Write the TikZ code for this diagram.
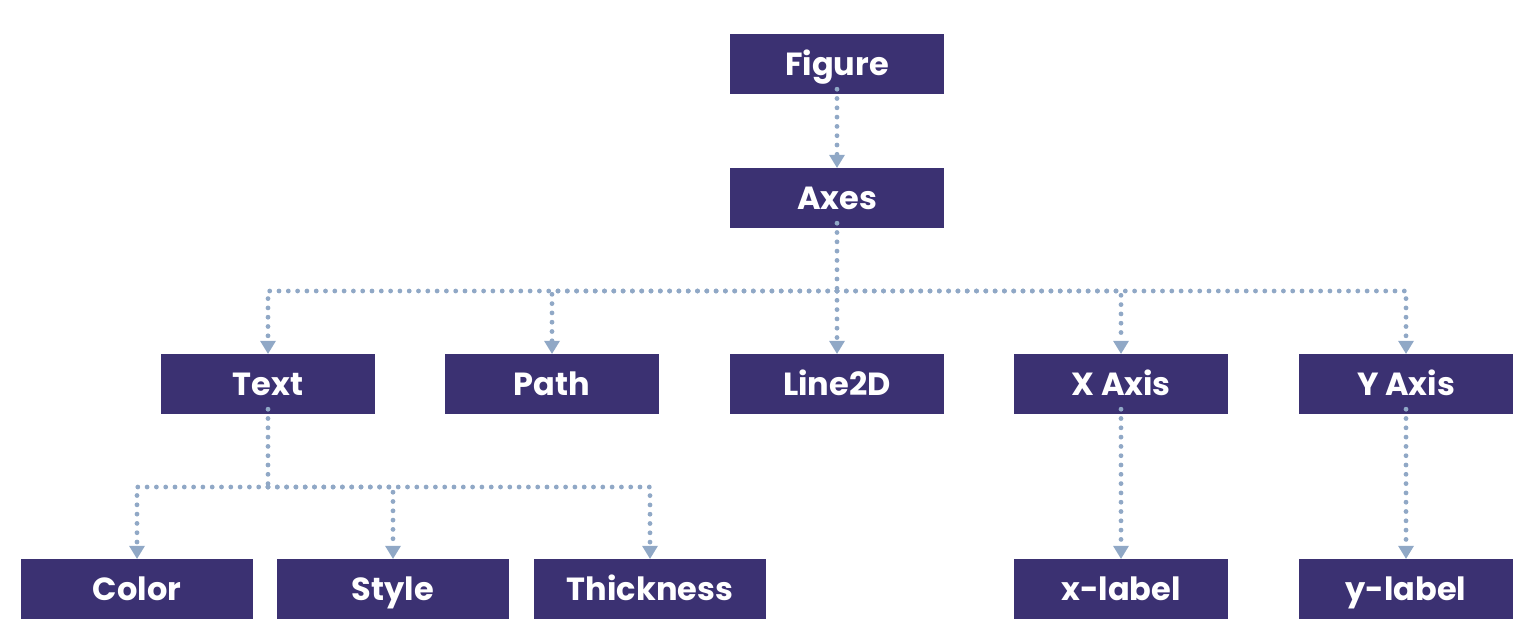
\documentclass[tikz,border=0pt]{standalone}
\usepackage{fontspec}
\setmainfont{Poppins}
\usetikzlibrary{arrows.meta}
\definecolor{boxfill}{HTML}{3B3172}
\definecolor{conncol}{HTML}{90A8C6}
\begin{document}
\begin{tikzpicture}[x=1pt,y=-1pt,
  box/.style={fill=boxfill,draw=none,minimum height=60pt,inner sep=0pt,
    text height=30pt,text depth=8pt,
    text=white,font=\fontsize{32}{38}\selectfont\bfseries},
  wbox/.style={box,minimum width=214pt},
  lbox/.style={box,minimum width=232pt},
  conn/.style={draw=conncol,line width=4.8pt,line cap=round,dash pattern=on 0pt off 9.3pt},
  arr/.style={conn,-{Triangle[width=16pt,length=13pt,line width=0pt,fill=conncol,round]}},
]
\useasboundingbox (0,0) rectangle (1538,643);
\node[wbox] (figure) at (837,64) {Figure};
\node[wbox] (axes) at (837,198) {Axes};
\node[wbox] (text) at (268,384) {Text};
\node[wbox] (path) at (552,384) {Path};
\node[wbox] (line) at (837,384) {Line2D};
\node[wbox] (xaxis) at (1121,384) {X Axis};
\node[wbox] (yaxis) at (1406,384) {Y Axis};
\node[lbox] (color) at (137,589) {Color};
\node[lbox] (style) at (393,589) {Style};
\node[lbox] (thick) at (650,589) {Thickness};
\node[wbox] (xlabel) at (1121,589) {x-label};
\node[wbox] (ylabel) at (1406,589) {y-label};
\coordinate (b1) at (837,291);
\coordinate (b2) at (268,487);
\draw[arr] ([yshift=5pt]figure.south) -- (axes.north);
\draw[conn] ([yshift=5pt]axes.south) -- (b1);
\draw[arr] (b1) -| (text.north);
\draw[arr] (b1) -| (path.north);
\draw[arr] (b1) -- (line.north);
\draw[arr] (b1) -| (xaxis.north);
\draw[arr] (b1) -| (yaxis.north);
\draw[conn] ([yshift=5pt]text.south) -- (b2);
\draw[arr] (b2) -| (color.north);
\draw[arr] (b2) -| (style.north);
\draw[arr] (b2) -| (thick.north);
\draw[arr] ([yshift=5pt]xaxis.south) -- (xlabel.north);
\draw[arr] ([yshift=5pt]yaxis.south) -- (ylabel.north);
\end{tikzpicture}
\end{document}
